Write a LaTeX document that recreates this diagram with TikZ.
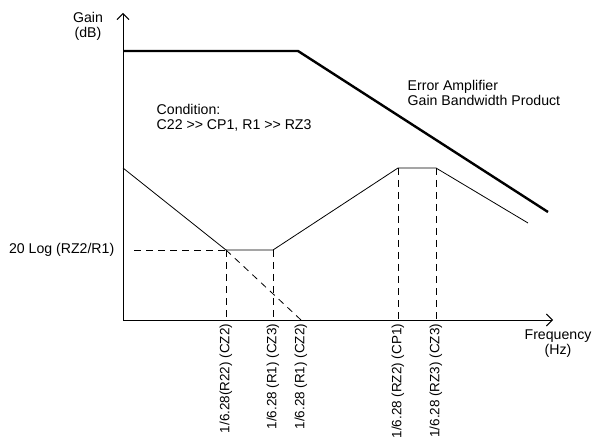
\documentclass[tikz,border=0pt]{standalone}
\usepackage{fontspec}
\setmainfont{Liberation Sans}
\usetikzlibrary{arrows.meta}
\tikzset{
  axis/.style={line width=0.7pt,-{Straight Barb[length=4.5pt,width=9pt]}},
  gbw/.style={line width=1.8pt},
  loop/.style={line width=0.6pt},
  guide/.style={line width=0.6pt,dash pattern=on 5pt off 4pt},
  freq/.style={rotate=90,anchor=east,inner sep=0.5pt,font=\fontsize{10.1}{11}\selectfont},
}
\begin{document}
\begin{tikzpicture}[x=0.75pt,y=-0.75pt,font=\fontsize{10.6}{11.25}\selectfont]
\useasboundingbox (0,0) rectangle (595,441);
% axes
\coordinate (o) at (123,320);
\coordinate (ytip) at (123,13);
\coordinate (xtip) at (553,320);
\draw[axis](o)--(ytip);
\draw[axis](o)--(xtip);
\node[align=center] (gain) at (88,26) {Gain\\(dB)};
\node[align=center] (hz) at (558,344) {Frequency\\(Hz)};
% error amplifier gain bandwidth product
\coordinate (g0) at (123,51);
\coordinate (g1) at (298,51);
\coordinate (g2) at (548,212);
\draw[gbw](g0)--(g1)--(g2);
\node[anchor=west,align=left] (ea) at (403,93) {Error Amplifier\\Gain Bandwidth Product};
\node[anchor=west,align=left] (cond) at (152,118) {Condition:\\C22 {>}{>} CP1, R1 {>}{>} RZ3};
% compensation curve
\coordinate (c0) at (123,168);
\coordinate (z1) at (226,250);
\coordinate (z2) at (273,250);
\coordinate (p1) at (398,168);
\coordinate (p2) at (436,168);
\coordinate (c5) at (528,223);
\draw[loop](c0)--(z1)--(z2)--(p1)--(p2)--(c5);
% guides
\node[anchor=east] (lvl) at (119,250) {20 Log (RZ2/R1)};
\coordinate (lvlstart) at (134,250);
\coordinate (cross) at (301,320);
\draw[guide](lvlstart)--(z1);
\draw[guide](z1)--(cross);
\draw[guide](z1)--(z1|-o);
\draw[guide](z2)--(z2|-o);
\draw[guide](p1)--(p1|-o);
\draw[guide](p2)--(p2|-o);
% frequency labels
\node[freq] (f1) at (226,323) {1/6.28(R22) (CZ2)};
\node[freq] (f2) at (273,323) {1/6.28 (R1) (CZ3)};
\node[freq] (f3) at (301,323) {1/6.28 (R1) (CZ2)};
\node[freq] (f4) at (398,323) {1/6.28 (RZ2) (CP1)};
\node[freq] (f5) at (436,323) {1/6.28 (RZ3) (CZ3)};
\end{tikzpicture}
\end{document}
